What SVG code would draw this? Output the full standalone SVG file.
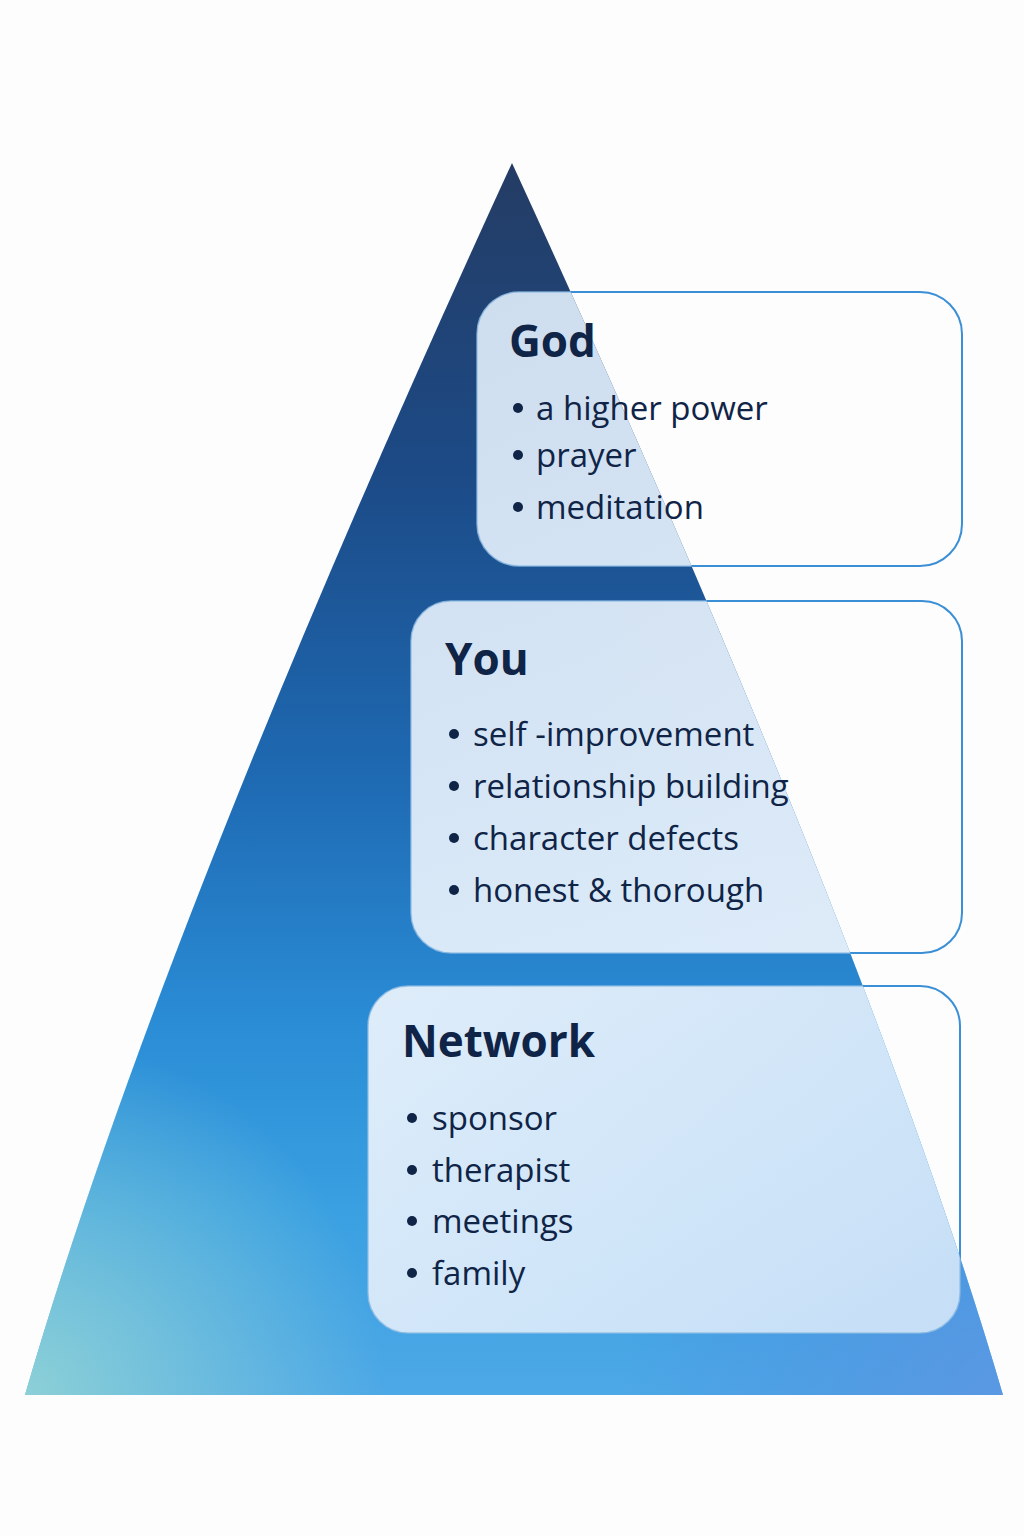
<svg xmlns="http://www.w3.org/2000/svg" width="1024" height="1536" viewBox="0 0 1024 1536">
  <style>
    .title { font-family: "Open Sans", "Noto Sans", "Liberation Sans", sans-serif; font-weight: 700; font-size: 44px; fill: #0f2446; }
    .item { font-family: "Open Sans", "Noto Sans", "Liberation Sans", sans-serif; font-weight: 400; font-size: 33px; fill: #0f2446; }
    .dot { fill: #0f2446; }
    .edge-out { fill: none; stroke: #3b8fd6; stroke-width: 2; }
    .edge-in { fill: none; stroke: #8fbbe3; stroke-width: 1.5; stroke-opacity: 0.8; }
  </style>
  <defs>
    <path id="pyr" d="M512,163 Q161,926 25,1395 L1003,1395 Q873,949 512,163 Z"/>
    <clipPath id="inPyr"><use href="#pyr"/></clipPath>
    <mask id="outPyr" maskUnits="userSpaceOnUse" x="0" y="0" width="1024" height="1536">
      <rect x="0" y="0" width="1024" height="1536" fill="#fff"/>
      <use href="#pyr" fill="#000"/>
    </mask>
    <linearGradient id="pyrGrad" gradientUnits="userSpaceOnUse" x1="0" y1="163" x2="0" y2="1395">
      <stop offset="0" stop-color="#243c64"/>
      <stop offset="0.25" stop-color="#1c4a86"/>
      <stop offset="0.5" stop-color="#1e6ab3"/>
      <stop offset="0.7" stop-color="#2a8dd6"/>
      <stop offset="0.85" stop-color="#3aa0e1"/>
      <stop offset="1" stop-color="#4da8e6"/>
    </linearGradient>
    <radialGradient id="teal" gradientUnits="userSpaceOnUse" cx="25" cy="1395" r="360">
      <stop offset="0" stop-color="#8fd2d6" stop-opacity="0.95"/>
      <stop offset="1" stop-color="#8fd2d6" stop-opacity="0"/>
    </radialGradient>
    <radialGradient id="violet" gradientUnits="userSpaceOnUse" cx="1003" cy="1395" r="380">
      <stop offset="0" stop-color="#5c96e2" stop-opacity="0.9"/>
      <stop offset="1" stop-color="#4a8ee0" stop-opacity="0"/>
    </radialGradient>
    <linearGradient id="boxGod" x1="0" y1="0" x2="1" y2="1">
      <stop offset="0" stop-color="#dcebf9"/>
      <stop offset="1" stop-color="#e8f2fc"/>
    </linearGradient>
    <linearGradient id="boxYou" x1="0" y1="0" x2="1" y2="1">
      <stop offset="0" stop-color="#e2eefa"/>
      <stop offset="1" stop-color="#eef5fd"/>
    </linearGradient>
    <linearGradient id="boxNet" x1="0" y1="0" x2="1" y2="1">
      <stop offset="0" stop-color="#eef5fd"/>
      <stop offset="1" stop-color="#cfe4f8"/>
    </linearGradient>
  </defs>

  <rect x="0" y="0" width="1024" height="1536" fill="#fdfdfd"/>

  <g id="pyramid">
    <use href="#pyr" fill="url(#pyrGrad)"/>
    <use href="#pyr" fill="url(#teal)"/>
    <use href="#pyr" fill="url(#violet)"/>
  </g>

  <g id="connectors"></g>

  <g id="node-god">
    <rect x="477" y="292" width="485" height="274" rx="42" fill="url(#boxGod)" fill-opacity="0.92" clip-path="url(#inPyr)"/>
    <rect class="edge-in" x="477" y="292" width="485" height="274" rx="42" clip-path="url(#inPyr)"/>
    <rect class="edge-out" x="477" y="292" width="485" height="274" rx="42" mask="url(#outPyr)"/>
    <text class="title" x="509" y="357">God</text>
    <circle class="dot" cx="518" cy="408" r="5"/>
    <text class="item" x="536" y="420">a higher power</text>
    <circle class="dot" cx="518" cy="455" r="5"/>
    <text class="item" x="536" y="467">prayer</text>
    <circle class="dot" cx="518" cy="507" r="5"/>
    <text class="item" x="536" y="519">meditation</text>
  </g>

  <g id="node-you">
    <rect x="411" y="601" width="551" height="352" rx="40" fill="url(#boxYou)" fill-opacity="0.92" clip-path="url(#inPyr)"/>
    <rect class="edge-in" x="411" y="601" width="551" height="352" rx="40" clip-path="url(#inPyr)"/>
    <rect class="edge-out" x="411" y="601" width="551" height="352" rx="40" mask="url(#outPyr)"/>
    <text class="title" x="445" y="675">You</text>
    <circle class="dot" cx="454" cy="734" r="5"/>
    <text class="item" x="473" y="746">self -improvement</text>
    <circle class="dot" cx="454" cy="786" r="5"/>
    <text class="item" x="473" y="798">relationship building</text>
    <circle class="dot" cx="454" cy="838" r="5"/>
    <text class="item" x="473" y="850">character defects</text>
    <circle class="dot" cx="454" cy="890" r="5"/>
    <text class="item" x="473" y="902">honest &amp; thorough</text>
  </g>

  <g id="node-network">
    <rect x="368" y="986" width="592" height="347" rx="40" fill="url(#boxNet)" fill-opacity="0.92" clip-path="url(#inPyr)"/>
    <rect class="edge-in" x="368" y="986" width="592" height="347" rx="40" clip-path="url(#inPyr)"/>
    <rect class="edge-out" x="368" y="986" width="592" height="347" rx="40" mask="url(#outPyr)"/>
    <text class="title" x="402" y="1057">Network</text>
    <circle class="dot" cx="412" cy="1118" r="5"/>
    <text class="item" x="432" y="1130">sponsor</text>
    <circle class="dot" cx="412" cy="1170" r="5"/>
    <text class="item" x="432" y="1182">therapist</text>
    <circle class="dot" cx="412" cy="1221" r="5"/>
    <text class="item" x="432" y="1233">meetings</text>
    <circle class="dot" cx="412" cy="1273" r="5"/>
    <text class="item" x="432" y="1285">family</text>
  </g>
</svg>
